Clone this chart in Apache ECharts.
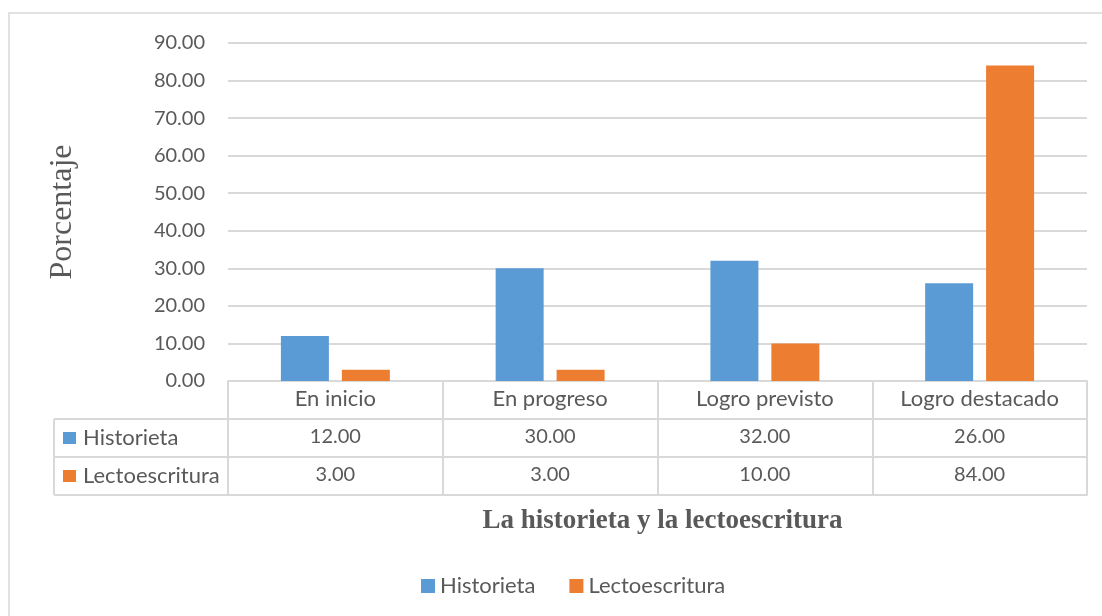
<!DOCTYPE html>
<html>
<head>
<meta charset="utf-8">
<script src="https://cdn.jsdelivr.net/npm/echarts@6/dist/echarts.min.js"></script>
<style>
  html, body { margin: 0; padding: 0; background: #fff; }
  #chart { width: 1102px; height: 616px; }
</style>
</head>
<body>
<div id="chart"></div>
<script>
// datos
const categories = ['En inicio', 'En progreso', 'Logro previsto', 'Logro destacado']
const historieta = [12, 30, 32, 26]
const lectoescritura = [3, 3, 10, 84]
const seriesNames = ['Historieta', 'Lectoescritura']
const yTicks = [0, 10, 20, 30, 40, 50, 60, 70, 80, 90]

const COLORS = ['#5B9BD5', '#ED7D31']
const TEXT = '#595959'
const LINE = '#d9d9d9'
const FONT = 'Lato, "Open Sans", sans-serif'
const SERIF = '"Liberation Serif", "Times New Roman", serif'

// geometria de la tabla
const gridLeft = 228
const gridRight = 1087
const gridTop = 43
const gridBottom = 381
const rowH = 38
const tableLeft = 54

const chart = echarts.init(document.getElementById('chart'))

// eje x por fila de la tabla
const makeRowAxis = (offset, values) => ({
  type: 'category',
  data: categories,
  position: 'bottom',
  offset: offset,
  gridIndex: 0,
  axisLine: { show: true, lineStyle: { color: LINE, width: 2 } },
  axisTick: { show: false },
  axisLabel: values
    ? {
        show: true,
        interval: 0,
        margin: 8,
        fontSize: 20,
        fontFamily: FONT,
        color: TEXT,
        formatter: (v, i) => values[i].toFixed(2),
      }
    : { show: false },
  splitLine: { show: false },
})

// cabecera de filas (marcador + nombre)
const rowGraphics = []
;[0, 1].forEach((i) => {
  const yTop = gridBottom + rowH * (i + 1)
  rowGraphics.push({
    type: 'rect',
    shape: { x: 63, y: yTop + rowH / 2 - 6, width: 13, height: 12 },
    style: { fill: COLORS[i] },
  })
  rowGraphics.push({
    type: 'text',
    x: 83,
    y: yTop + rowH / 2,
    style: {
      text: seriesNames[i],
      font: '22px ' + FONT,
      fill: TEXT,
      verticalAlign: 'middle',
    },
  })
})
// lineas de la cabecera de filas
;[1, 2, 3].forEach((k) => {
  const y = gridBottom + rowH * k
  rowGraphics.push({
    type: 'line',
    shape: { x1: tableLeft, y1: y, x2: gridLeft, y2: y },
    style: { stroke: LINE, lineWidth: 2 },
  })
})
rowGraphics.push({
  type: 'line',
  shape: { x1: tableLeft, y1: gridBottom + rowH, x2: tableLeft, y2: gridBottom + rowH * 3 },
  style: { stroke: LINE, lineWidth: 2 },
})
// borde exterior
rowGraphics.push({
  type: 'rect',
  shape: { x: 9, y: 13, width: 1100, height: 700 },
  style: { fill: 'none', stroke: LINE, lineWidth: 1.5 },
  z: -1,
})

const option = {
  animation: false,
  backgroundColor: '#fff',
  title: {
    text: 'La historieta y la lectoescritura',
    left: (gridLeft + gridRight) / 2,
    top: 503,
    textAlign: 'center',
    textStyle: {
      fontFamily: SERIF,
      fontWeight: 'bold',
      fontSize: 27,
      color: TEXT,
    },
  },
  legend: {
    data: seriesNames,
    bottom: 14,
    left: 416,
    icon: 'rect',
    itemWidth: 14,
    itemHeight: 14,
    itemGap: 34,
    textStyle: { fontSize: 22, fontFamily: FONT, color: TEXT },
  },
  grid: {
    left: gridLeft,
    right: 1102 - gridRight,
    top: gridTop,
    bottom: 616 - gridBottom,
    containLabel: false,
  },
  xAxis: [
    {
      type: 'category',
      data: categories,
      position: 'bottom',
      offset: 0,
      axisLine: { show: true, lineStyle: { color: LINE, width: 2 } },
      axisTick: {
        show: true,
        interval: 0,
        alignWithLabel: false,
        length: rowH * 3,
        lineStyle: { color: LINE, width: 2 },
      },
      axisLabel: {
        interval: 0,
        margin: 7,
        fontSize: 22,
        fontFamily: FONT,
        color: TEXT,
      },
    },
    makeRowAxis(rowH, historieta),
    makeRowAxis(rowH * 2, lectoescritura),
    makeRowAxis(rowH * 3, null),
  ],
  yAxis: {
    type: 'value',
    min: yTicks[0],
    max: yTicks[yTicks.length - 1],
    interval: yTicks[1] - yTicks[0],
    name: 'Porcentaje',
    nameLocation: 'middle',
    nameGap: 149,
    nameTextStyle: {
      fontFamily: SERIF,
      fontSize: 32,
      color: TEXT,
    },
    axisLine: { show: false },
    axisTick: { show: false },
    axisLabel: {
      margin: 23,
      fontSize: 20,
      fontFamily: FONT,
      color: TEXT,
      formatter: (v) => v.toFixed(2),
    },
    splitLine: { lineStyle: { color: LINE, width: 2 } },
  },
  series: [
    {
      name: seriesNames[0],
      type: 'bar',
      xAxisIndex: 0,
      data: historieta,
      barWidth: 48,
      barGap: '27%',
      itemStyle: { color: COLORS[0] },
    },
    {
      name: seriesNames[1],
      type: 'bar',
      xAxisIndex: 0,
      data: lectoescritura,
      barWidth: 48,
      barGap: '27%',
      itemStyle: { color: COLORS[1] },
    },
  ],
  graphic: rowGraphics,
}

chart.setOption(option)
</script>
</body>
</html>
